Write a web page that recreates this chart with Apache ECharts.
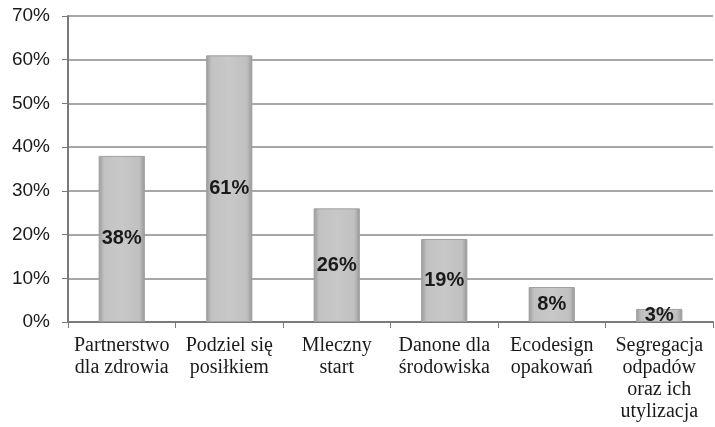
<!DOCTYPE html>
<html>
	<head>
		<meta charset="UTF-8">
		<title></title>
		<style>
			html, body { margin: 0; padding: 0; background: #fff; }
			#chart { width: 715px; height: 427px; }
		</style>
	</head>
	<body>
		<div id="chart"></div>
		<script src="https://cdn.jsdelivr.net/npm/echarts@6/dist/echarts.min.js"></script>
		<script>
			// kategorie (oś x)
			var categories = [
				'Partnerstwo\ndla zdrowia',
				'Podziel się\nposiłkiem',
				'Mleczny\nstart',
				'Danone dla\nśrodowiska',
				'Ecodesign\nopakowań',
				'Segregacja\nodpadów\noraz ich\nutylizacja'
			];
			// wartości w procentach
			var values = [38, 61, 26, 19, 8, 3];

			var myChart = echarts.init(document.getElementById('chart'));

			var barColor = new echarts.graphic.LinearGradient(0, 0, 1, 0, [
				{ offset: 0, color: '#9a9a9a' },
				{ offset: 0.12, color: '#c2c2c2' },
				{ offset: 0.5, color: '#c8c8c8' },
				{ offset: 0.88, color: '#c0c0c0' },
				{ offset: 1, color: '#969696' }
			]);

			var option = {
				animation: false,
				grid: {
					left: 68,
					right: 2,
					top: 16,
					bottom: 105
				},
				xAxis: {
					type: 'category',
					data: categories,
					axisLine: { lineStyle: { color: '#7a7a7a', width: 2 } },
					axisTick: { show: true, alignWithLabel: false, length: 6, lineStyle: { color: '#7a7a7a' } },
					axisLabel: {
						interval: 0,
						color: '#1a1a1a',
						fontFamily: 'Liberation Serif',
						fontSize: 20,
						lineHeight: 22,
						margin: 13
					}
				},
				yAxis: {
					type: 'value',
					min: 0,
					max: 70,
					interval: 10,
					axisLine: { show: true, lineStyle: { color: '#7a7a7a', width: 2 } },
					axisTick: { show: true, length: 6, lineStyle: { color: '#7a7a7a' } },
					splitLine: { lineStyle: { color: '#8a8a8a', width: 1.5 } },
					axisLabel: {
						formatter: '{value}%',
						color: '#1a1a1a',
						fontFamily: 'Liberation Sans',
						fontSize: 19,
						margin: 18
					}
				},
				series: [{
					type: 'bar',
					data: values,
					barWidth: '43%',
					itemStyle: {
						color: barColor,
						borderColor: '#a0a0a0',
						borderWidth: 1
					},
					label: {
						show: true,
						position: 'inside',
						formatter: '{c}%',
						color: '#1a1a1a',
						fontFamily: 'Liberation Sans',
						fontWeight: 'bold',
						fontSize: 20
					}
				}]
			};

			myChart.setOption(option);
		</script>
	</body>
</html>
